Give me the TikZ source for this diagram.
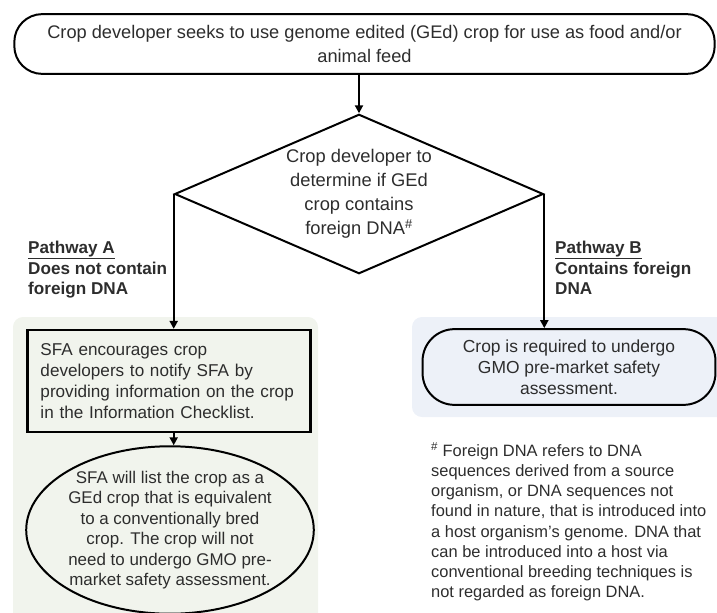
\documentclass[tikz,border=0pt]{standalone}
\usepackage{fontspec}
\setmainfont{Liberation Sans}
\usetikzlibrary{shapes.geometric,arrows.meta}
\definecolor{txt}{RGB}{45,45,45}
\definecolor{panelA}{RGB}{241,244,237}
\definecolor{panelB}{RGB}{237,241,248}
\tikzset{
  every node/.style={text=txt},
  outline/.style={draw=black, line width=2pt},
  flow/.style={draw=black, line width=2pt, -{Triangle[length=8pt,width=8pt]}},
  label/.style={align=left, anchor=north west, inner sep=0pt, font=\fontsize{17.2}{20.7}\selectfont\bfseries},
}
\begin{document}
\begin{tikzpicture}[x=1bp,y=-1bp]
\useasboundingbox (0,0) rectangle (717,613);

% tinted panels behind the two pathways
\fill[panelA, rounded corners=10] (13,317) rectangle (318,625);
\fill[panelB, rounded corners=10] (412,317) rectangle (730,417);

% start box
\node[outline, rounded corners=28, minimum width=703, minimum height=60, inner sep=0pt,
      align=center, font=\fontsize{18.3}{25}\selectfont] (start) at (364.5,44)
  {Crop developer seeks to use genome edited (GEd) crop for use as food and/or\\animal feed};

% decision
\node[outline, diamond, minimum width=370, minimum height=160, inner sep=0pt, aspect=2.3,
      align=center, font=\fontsize{18.4}{24}\selectfont] (dec) at (359,194)
  {Crop developer to\\determine if GEd\\crop contains\\foreign DNA\textsuperscript{\#}};

% pathway A
\node[outline, line width=2.6pt, rectangle, text width=258, inner xsep=13, minimum height=102,
      align=left, font=\fontsize{17.2}{21}\selectfont] (notify) at (169,381)
  {SFA encourages crop\\developers to notify SFA by\\providing information on the crop\\in the Information Checklist.};

\node[outline, ellipse, minimum width=285, minimum height=154, inner sep=0pt,
      align=center, font=\fontsize{17}{20.6}\selectfont] (list) at (170,530)
  {SFA will list the crop as a\\GEd crop that is equivalent\\to a conventionally bred\\crop. The crop will not\\need to undergo GMO pre-\\market safety assessment.};

% pathway B
\node[outline, rounded corners=32, minimum width=294, minimum height=76, inner sep=0pt,
      align=center, font=\fontsize{17.5}{21}\selectfont] (gmo) at (569,367)
  {Crop is required to undergo\\GMO pre-market safety\\assessment.};

% pathway labels
\node[label] (labA) at (28,241) {\underline{Pathway A}\\Does not contain\\foreign DNA};
\node[label] (labB) at (555,241) {\underline{Pathway B}\\Contains foreign\\DNA};

% footnote
\node[align=left, anchor=north west, inner sep=0pt, font=\fontsize{16.5}{20.3}\selectfont] (note) at (431,442)
  {\textsuperscript{\#} Foreign DNA refers to DNA\\sequences derived from a source\\organism, or DNA sequences not\\found in nature, that is introduced into\\a host organism’s genome. DNA that\\can be introduced into a host via\\conventional breeding techniques is\\not regarded as foreign DNA.};

% connectors
\draw[flow] (start.south -| dec.north) -- (dec.north);
\draw[flow] (dec.west) -- (notify.north -| dec.west);
\draw[flow] (dec.east) -- (gmo.north -| dec.east);
\draw[flow] (notify.south -| dec.west) -- (list.north -| dec.west);
\end{tikzpicture}
\end{document}
